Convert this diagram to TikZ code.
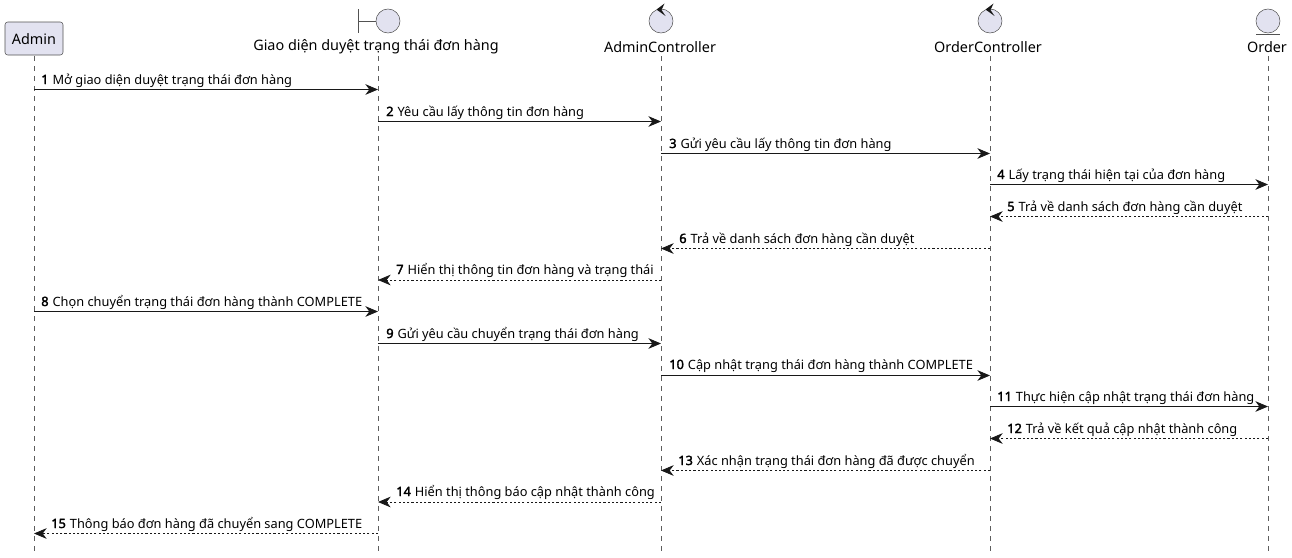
\documentclass[tikz,border=0pt]{standalone}
\usepackage{fontspec}
\setmainfont{Noto Sans}
\newfontface\seqbold{Noto Sans}[FakeBold=2.2]
\usetikzlibrary{arrows.meta}
\definecolor{headfill}{HTML}{E2E2F0}
\definecolor{headline}{HTML}{181818}
\newcommand{\seqno}[1]{{\seqbold #1}\kern0.5pt\relax}
\tikzset{
  head/.style={draw=headline!75,fill=headfill,line width=0.4pt},
  lifeline/.style={draw=headline!70,line width=0.4pt,dash pattern=on 3.75pt off 3.75pt},
  headtext/.style={inner sep=0pt,font=\fontsize{10.8}{12}\selectfont},
  msgtext/.style={inner sep=0pt,anchor=base west,font=\fontsize{9.6}{12}\selectfont},
  call/.style={draw=headline,line width=0.7pt,-{Stealth[length=9.5pt,width=8pt,inset=3pt]}},
  reply/.style={draw=headline,line width=0.6pt,dash pattern=on 1.6pt off 1.6pt,-{Stealth[length=9.5pt,width=8pt,inset=3pt]}}
}
\begin{document}
\begin{tikzpicture}[x=0.75pt,y=-0.75pt]
        \useasboundingbox (0,0) rectangle (1292,557);
        % lifelines
        \coordinate(adminEnd) at (34,552);
        \coordinate(giaoEnd) at (378,552);
        \coordinate(actrlEnd) at (661,552);
        \coordinate(octrlEnd) at (990,552);
        \coordinate(orderEnd) at (1268,552);
        \coordinate(adminTop) at (34,56);
        \coordinate(giaoTop) at (378,56);
        \coordinate(actrlTop) at (661,56);
        \coordinate(octrlTop) at (990,56);
        \coordinate(orderTop) at (1268,56);
        \draw[lifeline](adminTop)--(adminEnd);
        \draw[lifeline](giaoTop)--(giaoEnd);
        \draw[lifeline](actrlTop)--(actrlEnd);
        \draw[lifeline](octrlTop)--(octrlEnd);
        \draw[lifeline](orderTop)--(orderEnd);
        % heads
        \draw[head,rounded corners=2pt] (5,22) rectangle (63,55);
        \node[headtext](admin) at (34,39) {Admin};
        \node[headtext](giao) at (376,47) {Giao diện duyệt trạng thái đơn hàng};
        \node[headtext](actrl) at (660,47) {AdminController};
        \node[headtext](octrl) at (988,47) {OrderController};
        \node[headtext](order) at (1267,47) {Order};
        % boundary
        \draw[head](358.5,9)--(358.5,33);
        \draw[head](358.5,21)--(376,21);
        \draw[head](388,21) circle (12);
        % controllers
        \draw[head](661,21) circle (12);
        \draw[head](990,21) circle (12);
        \fill[headline](656.5,9.5)--(664.5,3.5)--(661.5,10)--(665.5,16)--cycle;
        \fill[headline](985.5,9.5)--(993.5,3.5)--(990.5,10)--(994.5,16)--cycle;
        % entity
        \draw[head](1268,21) circle (12);
        \draw[head](1256,34)--(1280,34);
        % points on the lifelines
        \foreach \n/\y in {1/89.5,2/121.5,3/153.5,4/184.5,5/216.5,6/248.5,7/280,8/311.5,9/343.5,10/375.5,11/406.5,12/438.5,13/470.5,14/502,15/533.5}{
          \coordinate(admin\n) at (34,\y);
          \coordinate(giao\n) at (378,\y);
          \coordinate(actrl\n) at (661,\y);
          \coordinate(octrl\n) at (990,\y);
          \coordinate(order\n) at (1268,\y);
        }
        % messages
        \draw[call](admin1)--(giao1);
        \draw[call](giao2)--(actrl2);
        \draw[call](actrl3)--(octrl3);
        \draw[call](octrl4)--(order4);
        \draw[reply](order5)--(octrl5);
        \draw[reply](octrl6)--(actrl6);
        \draw[reply](actrl7)--(giao7);
        \draw[call](admin8)--(giao8);
        \draw[call](giao9)--(actrl9);
        \draw[call](actrl10)--(octrl10);
        \draw[call](octrl11)--(order11);
        \draw[reply](order12)--(octrl12);
        \draw[reply](octrl13)--(actrl13);
        \draw[reply](actrl14)--(giao14);
        \draw[reply](giao15)--(admin15);
        % labels
        \node[msgtext](m1) at (41,84) {\seqno{1} Mở giao diện duyệt trạng thái đơn hàng};
        \node[msgtext](m2) at (386,116) {\seqno{2} Yêu cầu lấy thông tin đơn hàng};
        \node[msgtext](m3) at (669,148) {\seqno{3} Gửi yêu cầu lấy thông tin đơn hàng};
        \node[msgtext](m4) at (997,179) {\seqno{4} Lấy trạng thái hiện tại của đơn hàng};
        \node[msgtext](m5) at (1007,211) {\seqno{5} Trả về danh sách đơn hàng cần duyệt};
        \node[msgtext](m6) at (679,243) {\seqno{6} Trả về danh sách đơn hàng cần duyệt};
        \node[msgtext](m7) at (396,274) {\seqno{7} Hiển thị thông tin đơn hàng và trạng thái};
        \node[msgtext](m8) at (41,306) {\seqno{8} Chọn chuyển trạng thái đơn hàng thành COMPLETE};
        \node[msgtext](m9) at (386,338) {\seqno{9} Gửi yêu cầu chuyển trạng thái đơn hàng};
        \node[msgtext](m10) at (669,369) {\seqno{10} Cập nhật trạng thái đơn hàng thành COMPLETE};
        \node[msgtext](m11) at (997,401) {\seqno{11} Thực hiện cập nhật trạng thái đơn hàng};
        \node[msgtext](m12) at (1007,433) {\seqno{12} Trả về kết quả cập nhật thành công};
        \node[msgtext](m13) at (678,465) {\seqno{13} Xác nhận trạng thái đơn hàng đã được chuyển};
        \node[msgtext](m14) at (396,496) {\seqno{14} Hiển thị thông báo cập nhật thành công};
        \node[msgtext](m15) at (51,528) {\seqno{15} Thông báo đơn hàng đã chuyển sang COMPLETE};
\end{tikzpicture}
\end{document}
